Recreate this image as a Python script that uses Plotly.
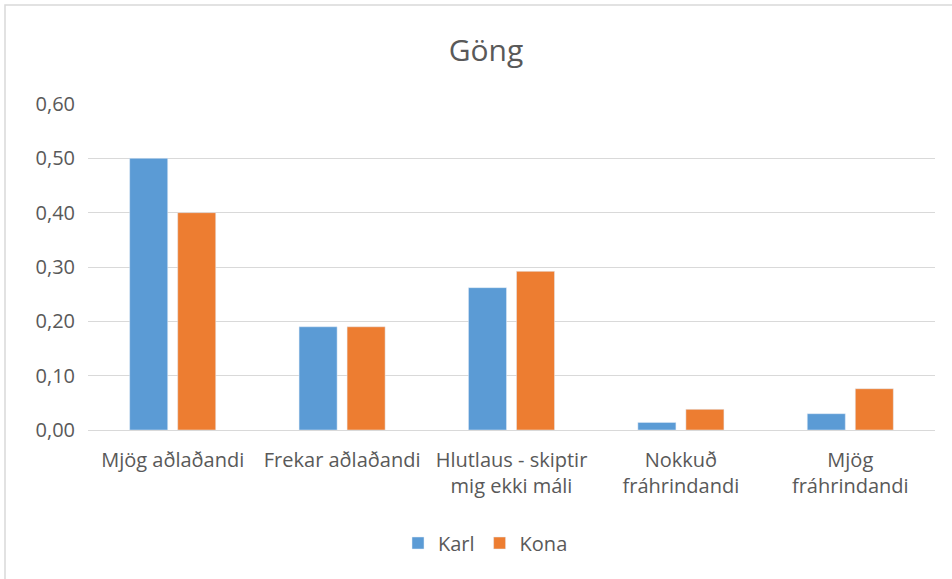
import plotly.graph_objects as go

categories = ["Mjög aðlaðandi", "Frekar aðlaðandi", "Hlutlaus - skiptir<br>mig ekki máli",
              "Nokkuð<br>fráhrindandi", "Mjög<br>fráhrindandi"]
karl = [0.50, 0.19, 0.262, 0.014, 0.030]
kona = [0.40, 0.19, 0.292, 0.038, 0.076]
tick_vals = [0, 0.1, 0.2, 0.3, 0.4, 0.5, 0.6]
tick_text = ["0,00", "0,10", "0,20", "0,30", "0,40", "0,50", "0,60"]

font_family = "Open Sans, Liberation Sans, sans-serif"
txt = "#595959"

L, R, T, B = 88, 17, 104, 149
W, H = 952, 579
pw, ph = W - L - R, H - T - B

fig = go.Figure()
fig.add_trace(go.Bar(name="Karl", x=categories, y=karl, marker_color="#5B9BD5"))
fig.add_trace(go.Bar(name="Kona", x=categories, y=kona, marker_color="#ED7D31"))

fig.update_layout(
    width=W, height=H,
    paper_bgcolor="white", plot_bgcolor="white",
    title=dict(text="Göng", x=486 / W, xanchor="center", y=1 - 50 / H, yanchor="middle",
               font=dict(family=font_family, size=30, color=txt)),
    barmode="group", bargap=0.433, bargroupgap=0.208,
    margin=dict(l=L, r=R, t=T, b=B),
    font=dict(family=font_family, size=20, color=txt),
    legend=dict(orientation="h", x=0.5 - 26 / pw, xanchor="center", y=(430 - 543) / ph,
                yanchor="middle", font=dict(size=20, color=txt)),
    xaxis=dict(showgrid=False, showline=True, linecolor="#D9D9D9", linewidth=1,
               ticks="", ticklabelstandoff=12, tickfont=dict(size=20, color=txt)),
    yaxis=dict(range=[0, 0.6], tickvals=tick_vals, ticktext=tick_text,
               showgrid=True, gridcolor="#D9D9D9", gridwidth=1, zeroline=False,
               ticks="", ticklabelstandoff=12, tickfont=dict(size=20, color=txt)),
    shapes=[dict(type="rect", xref="paper", yref="paper",
                 x0=(5 - L) / pw, x1=(W + 10 - L) / pw,
                 y0=(430 - H - 10) / ph, y1=(430 - 5) / ph,
                 line=dict(color="#D9D9D9", width=1.5))],
)

fig.write_html("out.html", config={"displayModeBar": False},
               post_script="document.body.style.margin='0';")
